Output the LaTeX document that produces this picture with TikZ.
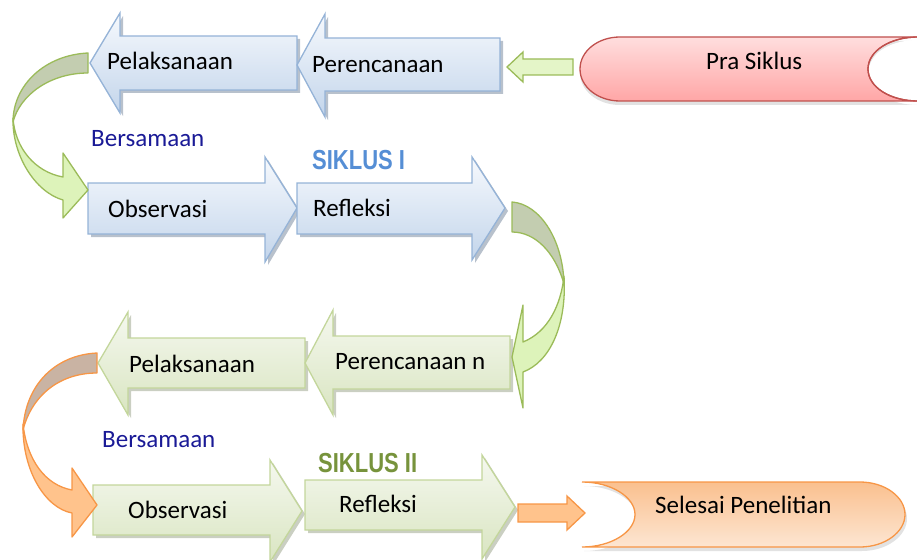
\documentclass[tikz,border=0pt]{standalone}
\usepackage{fontspec}
\setmainfont{Carlito}
\newfontfamily\sikfont[FakeStretch=0.8]{Liberation Sans}
\definecolor{bluetop}{HTML}{F6F9FD}
\definecolor{bluebot}{HTML}{C3D5EB}
\definecolor{blueline}{HTML}{95B3D7}
\definecolor{greentop}{HTML}{F5F8EF}
\definecolor{greenbot}{HTML}{D9E5C1}
\definecolor{greenline}{HTML}{C3D69B}
\definecolor{curvegreen}{HTML}{DDF3BA}
\definecolor{curvegreenline}{HTML}{9BBB59}
\definecolor{curvegreendark}{HTML}{C3CDB0}
\definecolor{curveorange}{HTML}{FFC38C}
\definecolor{curveorangeline}{HTML}{F79646}
\definecolor{curveorangedark}{HTML}{C9B3A3}
\definecolor{pratop}{HTML}{FFDEDE}
\definecolor{prabot}{HTML}{FFA6A6}
\definecolor{praline}{HTML}{C0504D}
\definecolor{seltop}{HTML}{FAC08F}
\definecolor{selbot}{HTML}{FDE6D2}
\definecolor{bersama}{RGB}{26,26,150}
\definecolor{sikone}{HTML}{558ED5}
\definecolor{siktwo}{HTML}{77933C}
\definecolor{shadowblue}{HTML}{9AA6B6}
\definecolor{shadowgreen}{HTML}{B4BAA8}
\newcommand\mkarrow[9]{\path[#1] (#2,#3) -- (#4,#5) -- (#4,#7) -- (#9,#7) -- (#9,#8) -- (#4,#8) -- (#4,#6) -- cycle;}
\tikzset{
  lbl/.style={inner sep=0pt, anchor=base west, font=\fontsize{25}{30}\selectfont},
  berlbl/.style={lbl, text=bersama},
  siklbl/.style={inner sep=0pt, anchor=base west, font=\sikfont\bfseries\fontsize{27.5}{32}\selectfont},
  blueblk/.style={draw=blueline, line width=1.3pt, line join=miter, top color=bluetop, bottom color=bluebot},
  greenblk/.style={draw=greenline, line width=1.3pt, line join=miter, top color=greentop, bottom color=greenbot},
  shblue/.style={fill=shadowblue, opacity=0.7, shift={(3,3)}},
  shgreen/.style={fill=shadowgreen, opacity=0.7, shift={(3,3)}},
  smallgreen/.style={draw=curvegreenline, line width=1.3pt, fill=curvegreen!80!white},
  smallorange/.style={draw=curveorangeline, line width=1.3pt, fill=curveorange},
  cgreen/.style={draw=curvegreenline, line width=1.3pt, fill=curvegreen, line join=round},
  cgreendark/.style={draw=curvegreenline, line width=1.3pt, fill=curvegreendark, line join=round},
  corange/.style={draw=curveorangeline, line width=1.3pt, fill=curveorange, line join=round},
  corangedark/.style={draw=curveorangeline, line width=1.3pt, fill=curveorangedark, line join=round},
}
\begin{document}
\begin{tikzpicture}[x=1pt,y=-1pt]
\useasboundingbox (0,0) rectangle (917,559);
\clip (0,0) rectangle (917,559);
% shadows
\mkarrow{shblue}{90}{63}{120}{13}{113}{36}{90}{297}
\mkarrow{shblue}{297}{65}{325}{14}{117}{38}{91}{500}
\mkarrow{shblue}{297}{208}{265}{157}{262}{183}{234}{88}
\mkarrow{shblue}{505}{208}{472}{157}{260}{183}{234}{297}
\mkarrow{shgreen}{98}{363}{128}{312}{415}{338}{388}{305}
\mkarrow{shgreen}{305}{363}{333}{310}{415}{336}{389}{510}
\mkarrow{shgreen}{302}{511}{270}{460}{562}{485}{535}{93}
\mkarrow{shgreen}{515}{507}{482}{455}{559}{480}{530}{305}
% top row (blue, pointing left)
\mkarrow{blueblk}{90}{63}{120}{13}{113}{36}{90}{297}
\mkarrow{blueblk}{297}{65}{325}{14}{117}{38}{91}{500}
% second row (blue, pointing right)
\mkarrow{blueblk}{297}{208}{265}{157}{262}{183}{234}{88}
\mkarrow{blueblk}{505}{208}{472}{157}{260}{183}{234}{297}
% third row (green, pointing left)
\mkarrow{greenblk}{98}{363}{128}{312}{415}{338}{388}{305}
\mkarrow{greenblk}{305}{363}{333}{310}{415}{336}{389}{510}
% fourth row (green, pointing right)
\mkarrow{greenblk}{302}{511}{270}{460}{562}{485}{535}{93}
\mkarrow{greenblk}{515}{507}{482}{455}{559}{480}{530}{305}
% small arrows
\mkarrow{smallgreen}{507}{67}{523}{52}{82}{59}{75}{573}
\mkarrow{smallorange}{585}{513}{567}{496}{530}{504}{522}{518}
% Pra Siklus shape
\path[fill=gray!45, opacity=0.5, shift={(0,4)}] (620,37) -- (918,37) .. controls (890,37) and (868,51) .. (868,69) .. controls (868,87) and (890,101) .. (918,101) -- (620,101) .. controls (598,101) and (580,87) .. (580,69) .. controls (580,51) and (598,37) .. (620,37) -- cycle;
\path[draw=praline, line width=1.3pt, top color=pratop, bottom color=prabot] (620,37) -- (918,37) .. controls (890,37) and (868,51) .. (868,69) .. controls (868,87) and (890,101) .. (918,101) -- (620,101) .. controls (598,101) and (580,87) .. (580,69) .. controls (580,51) and (598,37) .. (620,37) -- cycle;
\path[fill=white] (918,40) .. controls (892,40) and (870,52) .. (870,69) .. controls (870,86) and (892,99) .. (918,99) -- cycle;
\path[draw=praline, line width=1.3pt] (918,37) .. controls (890,37) and (868,51) .. (868,69) .. controls (868,87) and (890,101) .. (918,101);
% Selesai Penelitian shape
\path[fill=gray!45, opacity=0.5, shift={(2,4)}] (582,482) -- (860,482) .. controls (885,482) and (905,497) .. (905,514.5) .. controls (905,532) and (885,547) .. (860,547) -- (582,547) .. controls (611,547) and (635,532) .. (635,514.5) .. controls (635,497) and (611,482) .. (582,482) -- cycle;
\path[draw=curveorangeline, line width=1.3pt, top color=seltop, bottom color=selbot] (582,482) -- (860,482) .. controls (885,482) and (905,497) .. (905,514.5) .. controls (905,532) and (885,547) .. (860,547) -- (582,547) .. controls (611,547) and (635,532) .. (635,514.5) .. controls (635,497) and (611,482) .. (582,482) -- cycle;
% curved arrow 1 (green, left)
\path[cgreendark] (88,53) .. controls (45,55) and (13,85) .. (13,122) .. controls (20,95) and (50,73) .. (88,73) -- cycle;
\path[cgreen] (13,118) .. controls (12,155) and (35,192) .. (63,200) -- (63,218) -- (88,190) -- (63,153) -- (63,177) .. controls (35,172) and (15,148) .. (13,118) -- cycle;
% curved arrow 2 (green, right)
\path[cgreendark] (512,202) .. controls (540,204) and (563,240) .. (564,284) .. controls (555,252) and (535,232) .. (512,232) -- cycle;
\path[cgreen] (564,276) .. controls (567,325) and (550,362) .. (523,372) -- (523,408) -- (512,357) -- (523,305) -- (523,342) .. controls (548,332) and (561,305) .. (564,276) -- cycle;
% curved arrow 3 (orange, left)
\path[corangedark] (97,353) .. controls (55,355) and (25,385) .. (23,430) .. controls (32,395) and (60,373) .. (97,373) -- cycle;
\path[corange] (23,424) .. controls (22,470) and (45,508) .. (72,513) -- (72,537) -- (97,505) -- (72,468) -- (72,490) .. controls (45,485) and (27,460) .. (23,424) -- cycle;
% texts
\node[lbl] (pel1) at (107,70) {Pelaksanaan};
\node[lbl] (per1) at (312,73) {Perencanaan};
\node[lbl] (pra) at (706,70) {Pra Siklus};
\node[berlbl] (ber1) at (91,146) {Bersamaan};
\node[siklbl, text=sikone] (sik1) at (312,169) {SIKLUS I};
\node[lbl] (obs1) at (108,217) {Observasi};
\node[lbl] (ref1) at (313,216) {Refleksi};
\node[lbl] (pel2) at (129,372) {Pelaksanaan};
\node[lbl] (per2) at (335,369) {Perencanaan n};
\node[berlbl] (ber2) at (102,447) {Bersamaan};
\node[siklbl, text=siktwo] (sik2) at (318,472) {SIKLUS II};
\node[lbl] (obs2) at (128,518) {Observasi};
\node[lbl] (ref2) at (339,512) {Refleksi};
\node[lbl] (sel) at (655,513) {Selesai Penelitian};
\end{tikzpicture}
\end{document}
